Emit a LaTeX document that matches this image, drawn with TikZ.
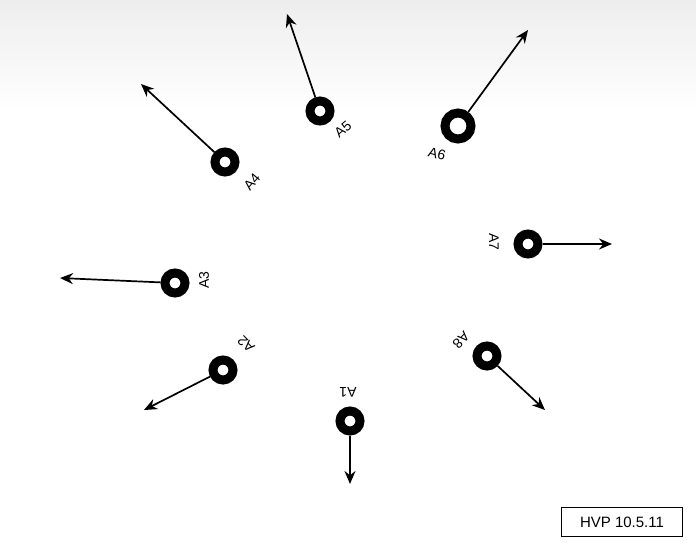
\documentclass[tikz,border=0pt]{standalone}
\usepackage{fontspec}
\setmainfont{Liberation Sans}
\usetikzlibrary{arrows.meta}
\begin{document}
\begin{tikzpicture}[x=1pt,y=-1pt,
  ring/.style={circle,draw=black,line width=9pt,minimum size=20pt,inner sep=0pt},
  bigring/.style={ring,minimum size=26pt},
  ray/.style={line width=1.7pt,-{Stealth[length=13pt,width=11pt]}},
  lab/.style={font=\fontsize{14}{14}\selectfont,inner sep=0pt}]
\useasboundingbox (0,0) rectangle (696,542);
\fill[white] (0,0) rectangle (696,542);
\shade[top color=black!7,bottom color=white,draw=none] (0,0) rectangle (696,110);

% rings
\node[ring] (a1) at (350,421) {};
\node[ring] (a2) at (223,370) {};
\node[ring] (a3) at (175,283) {};
\node[ring] (a4) at (225,162) {};
\node[ring] (a5) at (320,111) {};
\node[bigring] (a6) at (458,126) {};
\node[ring] (a7) at (528,244) {};
\node[ring] (a8) at (487,356) {};

% arrow end points
\coordinate (e1) at (350,484);
\coordinate (e2) at (144,410);
\coordinate (e3) at (60,278);
\coordinate (e4) at (141,84);
\coordinate (e5) at (287,14);
\coordinate (e6) at (528,30);
\coordinate (e7) at (612,244);
\coordinate (e8) at (545,410);

\foreach \i in {1,...,8} \draw[ray] (a\i) -- (e\i);

% labels
\node[lab,rotate=180] (l1) at (348,392) {A1};
\node[lab,rotate=135] (l2) at (246,344) {A2};
\node[lab,rotate=90] (l3) at (204,280) {A3};
\node[lab,rotate=50] (l4) at (252,182) {A4};
\node[lab,rotate=40] (l5) at (343,129) {A5};
\node[lab,rotate=-15] (l6) at (437,154) {A6};
\node[lab,rotate=-90] (l7) at (494,242) {A7};
\node[lab,rotate=-135] (l8) at (461,340) {A8};

% signature box
\node[draw=black,line width=1.6pt,minimum width=121pt,minimum height=29pt,
      font=\fontsize{15}{15}\selectfont] (sig) at (622,522) {HVP 10.5.11};
\end{tikzpicture}
\end{document}
